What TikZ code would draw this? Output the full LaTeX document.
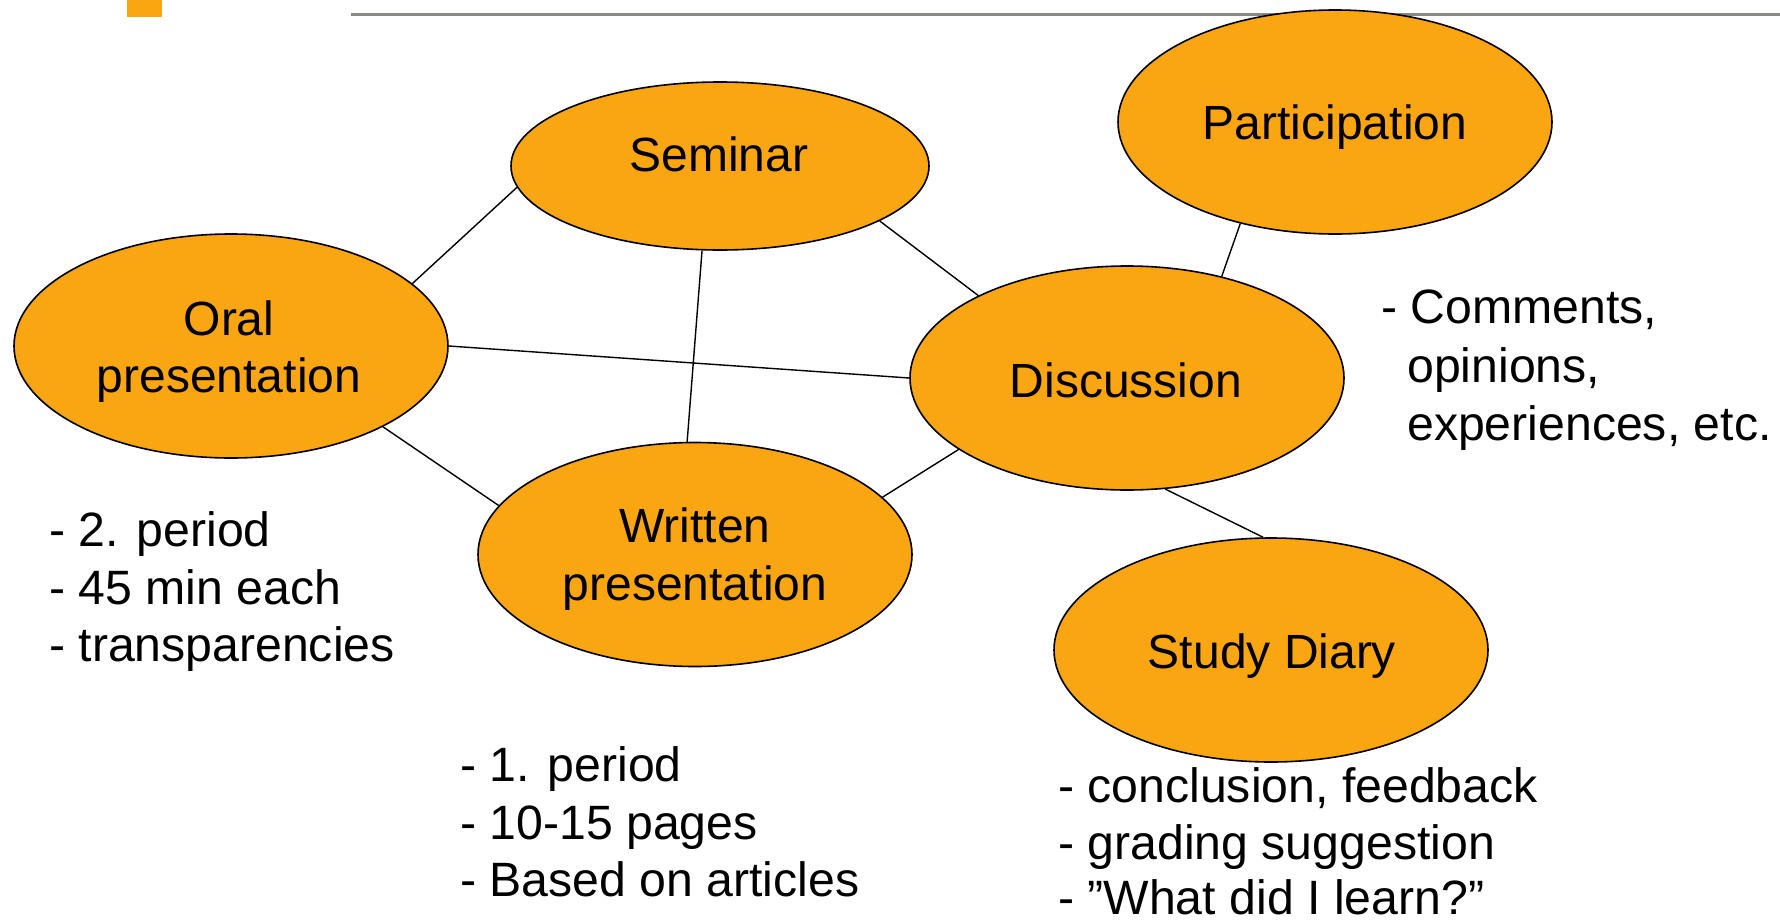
\documentclass[tikz,border=0pt]{standalone}
\usepackage{fontspec}
\setmainfont{Liberation Sans}
\usetikzlibrary{shapes.geometric}
\definecolor{ellfill}{RGB}{250,165,18}
\definecolor{rulegray}{RGB}{136,136,132}
\begin{document}
\begin{tikzpicture}[x=1pt,y=-1pt,
  bubble/.style={ellipse, draw=black, line width=1.6pt, fill=ellfill, minimum width=434pt, minimum height=224pt, inner sep=0pt},
  lbl/.style={anchor=base, inner sep=0pt, font=\fontsize{48}{57}\selectfont},
  item/.style={anchor=base west, inner sep=0pt, font=\fontsize{48.2}{57}\selectfont},
  link/.style={draw=black, line width=1.4pt}]
\useasboundingbox (0,0) rectangle (1780,921);
\fill[white] (0,0) rectangle (1780,921);
% header decoration
\fill[ellfill] (127,0) rectangle (162,17);
\draw[rulegray, line width=2.7pt] (351,14.3) -- (1780,14.3);
% bubbles
\node[bubble, minimum width=418pt, minimum height=168pt] (sem) at (720,166) {};
\node[bubble] (par) at (1335,122) {};
\node[bubble] (ora) at (231,346) {};
\node[bubble] (dis) at (1127,378) {};
\node[bubble] (wri) at (695,554.5) {};
\node[bubble] (stu) at (1271,650) {};
% connectors
\draw[link] (ora.19.7) -- (sem.186.2);
\draw[link] (sem.341.7) -- (dis.151.9);
\draw[link] (ora.0) -- (dis.180);
\draw[link] (sem.258.6) -- (wri.94.1);
\draw[link] (ora.332.1) -- (wri.166.2);
\draw[link] (wri.17.3) -- (dis.203.7);
\draw[link] (par.227.5) -- (dis.47.2);
\draw[link] (dis.289.7) -- (stu.94);
% bubble labels
\node[lbl] (semt) at (719,171.7) {Seminar};
\node[lbl] (part) at (1335,139) {Participation};
\node[lbl] (orat1) at (229,335) {Oral};
\node[lbl] (orat2) at (229,392.7) {presentation};
\node[lbl] (dist) at (1126,397) {Discussion};
\node[lbl] (writ1) at (695,542.7) {Written};
\node[lbl] (writ2) at (695,600) {presentation};
\node[lbl] (stut) at (1272,668) {Study Diary};
% lists
\node[item] (o1) at (49,546.7) {- 2. period};
\node[item] (o2) at (49,604) {- 45 min each};
\node[item] (o3) at (49,661.3) {- transparencies};
\node[item] (w1) at (460,781) {- 1. period};
\node[item] (w2) at (460,839) {- 10-15 pages};
\node[item] (w3) at (460,896) {- Based on articles};
\node[item] (s1) at (1058,802) {- conclusion, feedback};
\node[item] (s2) at (1058,859) {- grading suggestion};
\node[item] (s3) at (1058,914) {- ”What did I learn?”};
\node[item] (c1) at (1381,323) {- Comments,};
\node[item] (c2) at (1407,382) {opinions,};
\node[item] (c3) at (1407,440) {experiences, etc.};
\end{tikzpicture}
\end{document}
